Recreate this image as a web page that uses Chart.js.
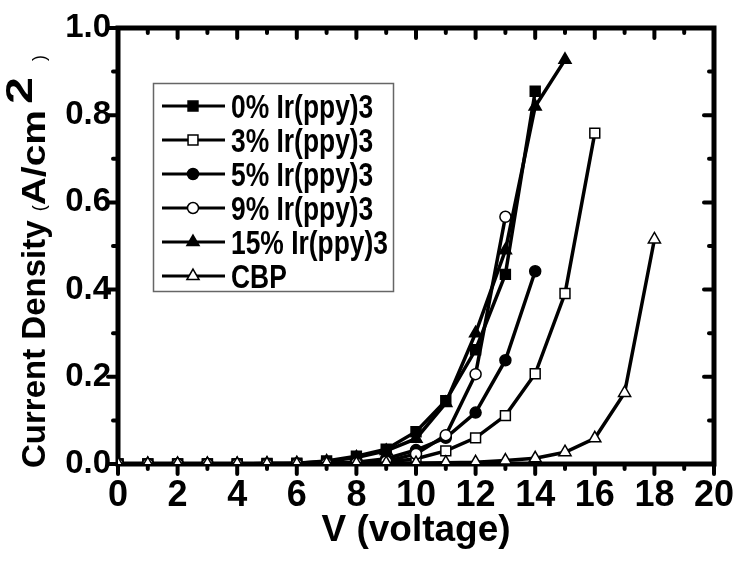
<!DOCTYPE html>
<html>
<head>
<meta charset="utf-8">
<script src="https://cdn.jsdelivr.net/npm/chart.js@4.4.1/dist/chart.umd.min.js"></script>
<style>
  html, body { margin: 0; padding: 0; background: #fff; }
  #wrap { width: 735px; height: 561px; }
</style>
</head>
<body>
<div id="wrap"><canvas id="c" width="735" height="561"></canvas></div>
<script>
// voltage steps (V), shared by every series
const voltages = [0, 1, 2, 3, 4, 5, 6, 7, 8, 9, 10, 11, 12, 13, 14, 15, 16, 17, 18];

const seriesLabels = ['0% Ir(ppy)3', '3% Ir(ppy)3', '5% Ir(ppy)3', '9% Ir(ppy)3', '15% Ir(ppy)3', 'CBP'];

// current density (A/cm2)
const ir0  = [0, 0, 0, 0, 0, 0.001, 0.002, 0.007, 0.018, 0.034, 0.074, 0.145, 0.262, 0.435, 0.855];
const ir3  = [0, 0, 0, 0, 0, 0, 0, 0.001, 0.002, 0.004, 0.012, 0.030, 0.060, 0.111, 0.207, 0.391, 0.759];
const ir5  = [0, 0, 0, 0, 0, 0, 0.001, 0.002, 0.004, 0.012, 0.032, 0.060, 0.118, 0.238, 0.442];
const ir9  = [0, 0, 0, 0, 0, 0, 0, 0.001, 0.002, 0.006, 0.023, 0.066, 0.206, 0.567];
const ir15 = [0, 0, 0, 0, 0, 0.001, 0.002, 0.006, 0.015, 0.030, 0.058, 0.140, 0.300, 0.490, 0.820, 0.927];
const cbp  = [0, 0, 0, 0, 0, 0, 0, 0.001, 0.001, 0.002, 0.002, 0.003, 0.004, 0.008, 0.013, 0.027, 0.059, 0.163, 0.515];

const xTicks = { min: 0, max: 20, step: 2 };
const yTicks = { min: 0, max: 1, step: 0.2 };

const FONT = 'Liberation Sans, Arial, sans-serif';
const NARROW = '"Liberation Sans Narrow", "Arial Narrow", Liberation Sans, Arial, sans-serif';

function pts(values) {
    return values.map((y, i) => ({ x: voltages[i], y: y }));
}

function series(label, values, style, filled, radius, order) {
    return {
        label: label,
        data: pts(values),
        borderColor: '#000',
        borderWidth: 3.5,
        pointStyle: style,
        pointRadius: radius,
        pointBackgroundColor: filled ? '#000' : '#fff',
        pointBorderColor: '#000',
        pointBorderWidth: 1.5,
        tension: 0,
        fill: false,
        order: order
    };
}

// box round the plot + inner/outer tick marks, major and minor
const frame = {
    id: 'frame',
    beforeDatasetsDraw(chart) {
        const { ctx, chartArea: a } = chart;
        const xs = chart.scales.x, ys = chart.scales.y;
        ctx.save();
        ctx.strokeStyle = '#000';
        ctx.lineCap = 'round';
        ctx.lineWidth = 4;
        const tick = (x1, y1, x2, y2) => { ctx.beginPath(); ctx.moveTo(x1, y1); ctx.lineTo(x2, y2); ctx.stroke(); };
        for (let v = xTicks.min; v <= xTicks.max + 1e-9; v += xTicks.step / 2) {
            const px = xs.getPixelForValue(v);
            const major = Math.abs(v / xTicks.step - Math.round(v / xTicks.step)) < 1e-6;
            const len = major ? 10 : 5;
            tick(px, a.bottom, px, a.bottom + len);
            tick(px, a.top, px, a.top + len);
        }
        for (let v = yTicks.min; v <= yTicks.max + 1e-9; v += yTicks.step / 2) {
            const py = ys.getPixelForValue(v);
            const major = Math.abs(v / yTicks.step - Math.round(v / yTicks.step)) < 1e-6;
            const len = major ? 10 : 5;
            tick(a.left, py, a.left - len, py);
            tick(a.right, py, a.right - len, py);
        }
        ctx.lineWidth = 5;
        ctx.lineCap = 'butt';
        ctx.strokeRect(a.left, a.top, a.right - a.left, a.bottom - a.top);
        ctx.restore();
    }
};

// y title with small brackets and superscript, like the original
const yTitle = {
    id: 'yTitle',
    afterDraw(chart) {
        const ctx = chart.ctx;
        const parts = [
            { t: 'Current Density ', f: 'bold 33px ' + FONT, dy: 0, gap: 0, sx: 1 },
            { t: '(', f: '18px ' + FONT, dy: 0, gap: 0, sx: 1 },
            { t: 'A/cm', f: 'bold 33px ' + FONT, dy: 0, gap: 0, sx: 1.18 },
            { t: '2', f: 'bold 36px ' + FONT, dy: -13, gap: 6, sx: 1.35 },
            { t: ')', f: '18px ' + FONT, dy: 0, gap: 16, sx: 1 }
        ];
        ctx.save();
        ctx.translate(45, 468);
        ctx.rotate(-Math.PI / 2);
        ctx.fillStyle = '#000';
        ctx.textAlign = 'left';
        ctx.textBaseline = 'alphabetic';
        let x = 0;
        parts.forEach(p => {
            ctx.font = p.f;
            x += p.gap;
            ctx.save();
            ctx.translate(x, p.dy);
            ctx.scale(p.sx, 1);
            ctx.fillText(p.t, 0, 0);
            ctx.restore();
            x += ctx.measureText(p.t).width * p.sx;
        });
        ctx.restore();
    }
};

// boxed legend inside the plot
const boxLegend = {
    id: 'boxLegend',
    afterDraw(chart) {
        const ctx = chart.ctx;
        ctx.save();
        ctx.strokeStyle = '#666';
        ctx.lineWidth = 1.5;
        ctx.strokeRect(153.5, 83.5, 240, 208);
        chart.data.datasets.forEach((ds, i) => {
            const cy = 106 + i * 34;
            ctx.strokeStyle = '#000';
            ctx.lineWidth = 3;
            ctx.beginPath();
            ctx.moveTo(162, cy);
            ctx.lineTo(225, cy);
            ctx.stroke();
            ctx.fillStyle = ds.pointBackgroundColor;
            ctx.lineWidth = ds.pointBorderWidth;
            Chart.helpers.drawPoint(ctx, { pointStyle: ds.pointStyle, radius: ds.pointRadius, rotation: 0, borderWidth: ds.pointBorderWidth }, 193, cy);
            ctx.save();
            ctx.fillStyle = '#000';
            ctx.font = 'bold 33px ' + FONT;
            ctx.textBaseline = 'alphabetic';
            ctx.translate(231, cy + 12);
            ctx.scale(0.8, 1);
            ctx.fillText(ds.label, 0, 0);
            ctx.restore();
        });
        ctx.restore();
    }
};

new Chart(document.getElementById('c'), {
    type: 'line',
    data: {
        datasets: [
            series(seriesLabels[0], ir0, 'rect', true, 7, 5),
            series(seriesLabels[1], ir3, 'rect', false, 7, 4),
            series(seriesLabels[2], ir5, 'circle', true, 5.5, 3),
            series(seriesLabels[3], ir9, 'circle', false, 5.5, 1),
            series(seriesLabels[4], ir15, 'triangle', true, 7, 2),
            series(seriesLabels[5], cbp, 'triangle', false, 7, 0)
        ]
    },
    options: {
        responsive: false,
        animation: false,
        devicePixelRatio: 1,
        layout: { padding: { top: 28, right: 21, left: 0, bottom: 0 } },
        plugins: {
            legend: { display: false },
            tooltip: { enabled: false }
        },
        scales: {
            x: {
                type: 'linear',
                min: xTicks.min,
                max: xTicks.max,
                grid: { display: false, drawTicks: false },
                border: { display: false },
                ticks: {
                    stepSize: xTicks.step,
                    color: '#000',
                    padding: 10,
                    maxRotation: 0,
                    font: { family: NARROW, size: 36, weight: 'bold' }
                },
                title: {
                    display: true,
                    text: 'V (voltage)',
                    color: '#000',
                    padding: { top: 0, bottom: 8 },
                    font: { family: FONT, size: 37, weight: 'bold' }
                },
                afterFit(s) { s.height = 97; s.paddingLeft = 0; s.paddingRight = 0; }
            },
            y: {
                type: 'linear',
                min: yTicks.min,
                max: yTicks.max,
                grid: { display: false, drawTicks: false },
                border: { display: false },
                ticks: {
                    stepSize: yTicks.step,
                    color: '#000',
                    padding: 7,
                    font: { family: FONT, size: 33, weight: 'bold' },
                    callback: v => Number(v).toFixed(1)
                },
                afterFit(s) { s.width = 118; s.paddingTop = 0; s.paddingBottom = 0; }
            }
        }
    },
    plugins: [frame, yTitle, boxLegend]
});
</script>
</body>
</html>
